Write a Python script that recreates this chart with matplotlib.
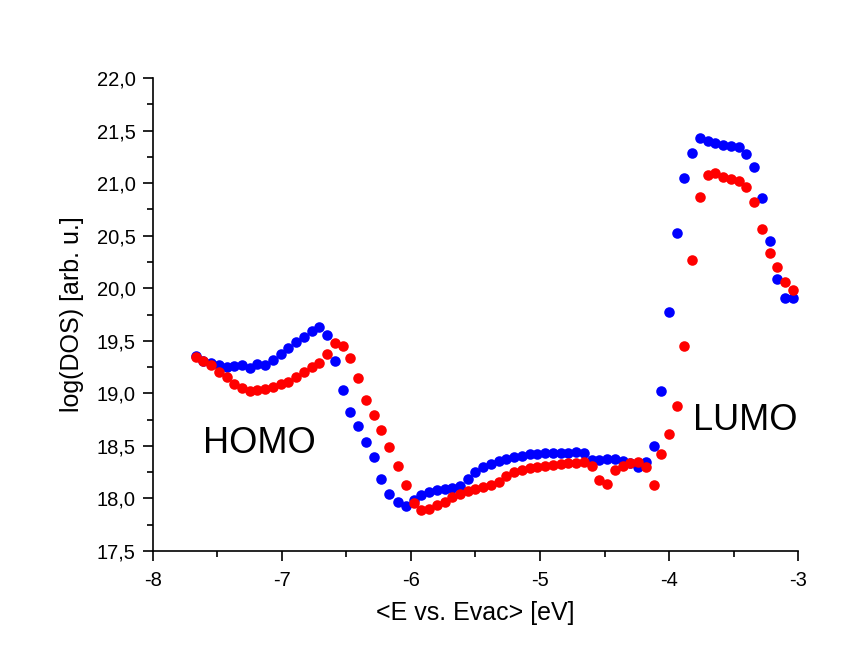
import matplotlib
matplotlib.use("Agg")
import matplotlib.pyplot as plt
from matplotlib.ticker import MultipleLocator, FuncFormatter

plt.rcParams['font.family'] = ['Liberation Sans', 'DejaVu Sans']

# energy grid (eV vs. vacuum level), shared by both measurements
energy = [-7.67, -7.61, -7.55, -7.49, -7.43, -7.37, -7.31, -7.25, -7.19, -7.13,
          -7.07, -7.01, -6.95, -6.89, -6.83, -6.77, -6.71, -6.65, -6.59, -6.53,
          -6.47, -6.41, -6.35, -6.29, -6.23, -6.17, -6.10, -6.04, -5.98, -5.92,
          -5.86, -5.80, -5.74, -5.68, -5.62, -5.56, -5.50, -5.44, -5.38, -5.32,
          -5.26, -5.20, -5.14, -5.08, -5.02, -4.96, -4.90, -4.84, -4.78, -4.72,
          -4.66, -4.60, -4.54, -4.48, -4.42, -4.36, -4.30, -4.24, -4.18, -4.12,
          -4.06, -4.00, -3.94, -3.88, -3.82, -3.76, -3.70, -3.64, -3.58, -3.52,
          -3.46, -3.40, -3.34, -3.28, -3.22, -3.16, -3.10, -3.04]

dos_blue = [19.36, 19.31, 19.29, 19.27, 19.25, 19.26, 19.27, 19.24, 19.28, 19.27,
            19.32, 19.37, 19.43, 19.49, 19.54, 19.59, 19.63, 19.56, 19.31, 19.03,
            18.82, 18.69, 18.54, 18.39, 18.19, 18.04, 17.965, 17.93, 17.99, 18.03,
            18.06, 18.08, 18.09, 18.10, 18.12, 18.19, 18.25, 18.30, 18.33, 18.36,
            18.38, 18.39, 18.40, 18.42, 18.42, 18.43, 18.43, 18.435, 18.435, 18.44,
            18.43, 18.37, 18.37, 18.38, 18.38, 18.36, 18.34, 18.30, 18.35, 18.50,
            19.02, 19.77, 20.53, 21.05, 21.29, 21.43, 21.40, 21.38, 21.36, 21.355,
            21.34, 21.28, 21.15, 20.86, 20.45, 20.09, 19.91, 19.91]

dos_red = [19.35, 19.31, 19.27, 19.20, 19.155, 19.09, 19.05, 19.02, 19.03, 19.04,
           19.06, 19.09, 19.11, 19.155, 19.20, 19.25, 19.29, 19.37, 19.48, 19.45,
           19.34, 19.15, 18.94, 18.79, 18.65, 18.49, 18.31, 18.13, 17.96, 17.89,
           17.90, 17.94, 17.97, 18.01, 18.04, 18.07, 18.09, 18.11, 18.13, 18.16,
           18.21, 18.25, 18.27, 18.29, 18.30, 18.31, 18.32, 18.33, 18.34, 18.34,
           18.35, 18.31, 18.18, 18.14, 18.27, 18.31, 18.34, 18.35, 18.30, 18.13,
           18.42, 18.61, 18.88, 19.45, 20.27, 20.87, 21.08, 21.10, 21.055, 21.035,
           21.02, 20.96, 20.82, 20.56, 20.34, 20.20, 20.06, 19.98]

fig = plt.figure(figsize=(8.59, 6.57), dpi=100)
ax = fig.add_axes([0.1781, 0.1613, 0.7509, 0.7199])

ax.plot(energy, dos_blue, 'o', color='#0000ff', markersize=7.6, markeredgewidth=0)
ax.plot(energy, dos_red, 'o', color='#ff0000', markersize=7.6, markeredgewidth=0)

ax.text(-7.612, 18.43, 'HOMO', fontsize=26, ha='left', va='baseline')
ax.text(-3.814, 18.648, 'LUMO', fontsize=26, ha='left', va='baseline')

ax.set_xlim(-8, -3)
ax.set_ylim(17.5, 22.0)

# Origin-like axes: only left and bottom spines, ticks outside
ax.spines['top'].set_visible(False)
ax.spines['right'].set_visible(False)
for s in ('left', 'bottom'):
    ax.spines[s].set_linewidth(1.2)

ax.xaxis.set_major_locator(MultipleLocator(1))
ax.xaxis.set_minor_locator(MultipleLocator(0.5))
ax.yaxis.set_major_locator(MultipleLocator(0.5))
ax.yaxis.set_minor_locator(MultipleLocator(0.25))
ax.xaxis.set_major_formatter(FuncFormatter(lambda v, p: f"{v:.0f}"))
ax.yaxis.set_major_formatter(FuncFormatter(lambda v, p: f"{v:.1f}".replace('.', ',')))

ax.tick_params(which='major', direction='out', length=7.5, width=1.2, labelsize=14.5, pad=5)
ax.tick_params(which='minor', direction='out', length=4, width=1.2)
ax.tick_params(axis='x', which='major', pad=7)

ax.set_xlabel('<E vs. Evac> [eV]', fontsize=18, labelpad=8)
ax.set_ylabel('log(DOS) [arb. u.]', fontsize=18, labelpad=9)

fig.savefig('out.png', dpi=100, facecolor='white')
